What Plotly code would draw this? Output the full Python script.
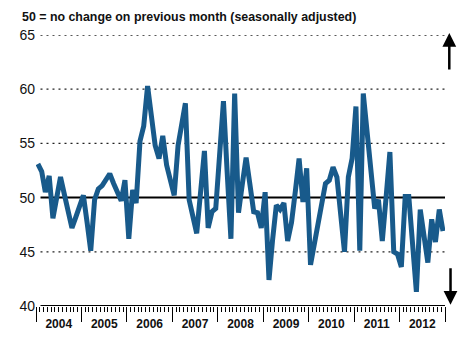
import pandas as pd
import plotly.graph_objects as go

# Monthly index values, Jan 2004 - Dec 2012
values = [
    53.1, 52.4, 50.5, 52.0, 48.1, 50.0, 51.9, 50.3, 48.5, 47.2, 48.2, 49.2,   # 2004
    50.2, 47.6, 45.1, 49.8, 50.8, 51.1, 51.6, 52.2, 51.3, 50.5, 49.7, 51.6,   # 2005
    46.2, 50.7, 49.5, 55.2, 56.6, 60.3, 57.5, 54.8, 53.6, 55.7, 53.0, 51.6,   # 2006
    50.2, 54.8, 56.8, 58.7, 49.8, 48.2, 46.7, 50.5, 54.3, 47.2, 48.7, 49.0,   # 2007
    53.5, 58.9, 52.5, 46.2, 59.6, 48.6, 51.2, 53.7, 51.2, 48.7, 48.6, 47.2,   # 2008
    50.5, 42.4, 46.0, 49.3, 48.9, 49.5, 46.0, 47.7, 50.6, 53.6, 49.6, 52.7,   # 2009
    43.8, 45.6, 47.4, 49.4, 51.3, 51.6, 52.8, 51.9, 48.5, 45.0, 51.9, 53.6,   # 2010
    58.4, 45.1, 59.6, 55.7, 51.9, 49.0, 49.8, 46.0, 50.1, 54.2, 45.0, 44.8,   # 2011
    43.6, 50.1, 50.1, 45.7, 41.3, 48.9, 46.5, 44.0, 48.0, 45.9, 48.9, 46.9,   # 2012
]
start_month = "2004-01-01"
y_ticks = [40, 45, 50, 55, 60, 65]
dotted_levels = [45, 55, 60, 65]
baseline = 50
title_text = "50 = no change on previous month (seasonally adjusted)"

months = pd.date_range(start_month, periods=len(values), freq="MS") + pd.Timedelta(days=15)

LINE = "#185a8b"
FONT = "Liberation Sans, Arial, sans-serif"

fig = go.Figure()
fig.add_trace(go.Scatter(
    x=months, y=values, mode="lines",
    line=dict(color=LINE, width=5),
    hoverinfo="skip", showlegend=False,
))

x0p = 0.011
shapes = []
for lv in dotted_levels:
    shapes.append(dict(type="line", xref="paper", yref="y", x0=x0p, x1=1, y0=lv, y1=lv,
                       line=dict(color="#222", width=1.3, dash="2px,4px"), layer="below"))
shapes.append(dict(type="line", xref="paper", yref="y", x0=x0p, x1=1, y0=baseline, y1=baseline,
                   line=dict(color="black", width=2), layer="below"))
shapes.append(dict(type="line", xref="paper", yref="y", x0=x0p, x1=1, y0=40, y1=40,
                   line=dict(color="black", width=2), layer="above"))

annotations = [
    dict(xref="paper", yref="paper", x=1.0105, y=1.007, ax=0, ay=38, text="", showarrow=True,
         arrowhead=2, arrowsize=1.1, arrowwidth=2.5, arrowcolor="black"),
    dict(xref="paper", yref="paper", x=1.0135, y=0.005, ax=0, ay=-38, text="", showarrow=True,
         arrowhead=2, arrowsize=1.1, arrowwidth=2.5, arrowcolor="black"),
]

fig.update_layout(
    width=467, height=343,
    margin=dict(l=36, r=22, t=35, b=29),
    paper_bgcolor="white", plot_bgcolor="white",
    title=dict(text=title_text, x=22 / 467, xref="container", xanchor="left",
               y=1 - 17 / 343, yref="container", yanchor="middle",
               font=dict(family=FONT, size=12.4, color="#111", weight="bold")),
    shapes=shapes,
    annotations=annotations,
    xaxis=dict(
        type="date", range=["2004-01-01", "2013-01-01"],
        dtick="M12", tick0="2004-01-01", ticklabelmode="period", tickformat="%Y",
        ticks="outside", ticklen=15, tickwidth=1, tickcolor="black",
        ticklabelstandoff=-8,
        tickfont=dict(family=FONT, size=12, color="#111", weight="bold"),
        showgrid=False, zeroline=False, showline=False,
        minor=dict(dtick="M1", tick0="2004-01-01", ticks="outside", ticklen=5,
                   tickwidth=1, tickcolor="black", showgrid=False),
    ),
    yaxis=dict(
        range=[40, 65], tickvals=y_ticks, showgrid=False, zeroline=False, showline=False,
        ticks="", tickfont=dict(family=FONT, size=14, color="#111"),
    ),
)

fig.write_html("out.html")
